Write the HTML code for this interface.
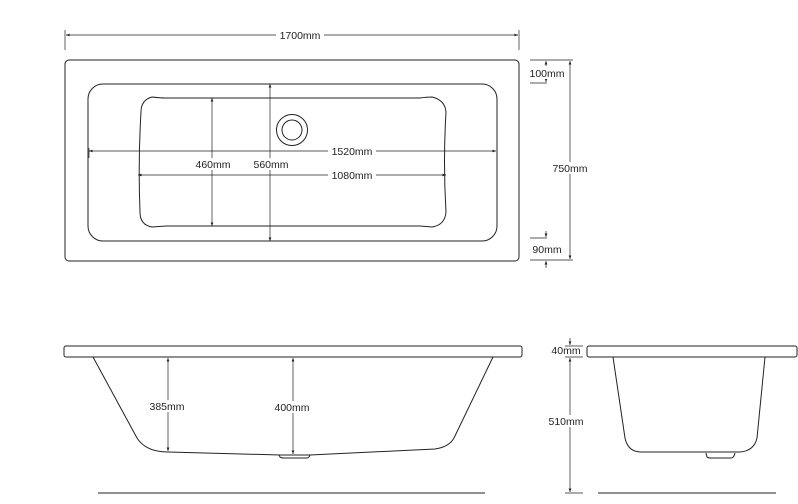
<!DOCTYPE html>
<html><head><style>
html,body{margin:0;padding:0;background:#fff;}
svg{display:block;}
text{font-family:"Liberation Sans",sans-serif;font-size:10.5px;fill:#222;}
</style></head><body>
<svg width="798" height="504" viewBox="0 0 798 504" xmlns="http://www.w3.org/2000/svg">
<defs>
<marker id="a" viewBox="0 0 10 10" refX="10" refY="5" markerWidth="5" markerHeight="5" orient="auto-start-reverse"><path d="M0,1 L10,5 L0,9z" fill="#222"/></marker>
</defs>
<g fill="none" stroke="#222" stroke-width="1">
<!-- top view -->
<rect x="65" y="60" width="454" height="201" rx="4"/>
<rect x="88" y="84" width="409" height="157" rx="15"/>
<path d="M152,97 Q160,98 166,98 L420,98 Q427,97 432,97 Q445,100 446,112 Q443,162 446,212 Q445,225 432,227 L420,226 L166,226 L152,227 Q140,225 140,212 Q138,162 141,112 Q141,100 152,97Z"/>
<circle cx="292" cy="130" r="15.5"/>
<circle cx="292" cy="130" r="10"/>
<!-- dims top -->
<line x1="65" y1="30" x2="65" y2="50" stroke-width="0.7"/>
<line x1="519" y1="30" x2="519" y2="50" stroke-width="0.7"/>
<line x1="66" y1="35" x2="518" y2="35" stroke-width="0.7" marker-start="url(#a)" marker-end="url(#a)"/>
<line x1="89" y1="151" x2="496" y2="151" stroke-width="0.7" marker-start="url(#a)" marker-end="url(#a)"/>
<line x1="89" y1="148" x2="89" y2="158" stroke-width="0.7"/>
<line x1="138" y1="175" x2="446" y2="175" stroke-width="0.7" marker-start="url(#a)" marker-end="url(#a)"/>
<line x1="212" y1="98" x2="212" y2="226" stroke-width="0.7" marker-start="url(#a)" marker-end="url(#a)"/>
<line x1="270" y1="84" x2="270" y2="241" stroke-width="0.7" marker-start="url(#a)" marker-end="url(#a)"/>
<!-- right dims -->
<line x1="530" y1="60" x2="573" y2="60" stroke-width="0.7"/>
<line x1="530" y1="260" x2="573" y2="260" stroke-width="0.7"/>
<line x1="570" y1="61" x2="570" y2="259" stroke-width="0.7" marker-start="url(#a)" marker-end="url(#a)"/>
<line x1="530" y1="83" x2="547" y2="83" stroke-width="0.7"/>
<line x1="546" y1="66" x2="546" y2="61" stroke-width="0.7" marker-end="url(#a)"/>
<line x1="546" y1="77" x2="546" y2="82" stroke-width="0.7" marker-end="url(#a)"/>
<line x1="530" y1="238" x2="547" y2="238" stroke-width="0.7"/>
<line x1="546" y1="231" x2="546" y2="237" stroke-width="0.7" marker-end="url(#a)"/>
<line x1="546" y1="268" x2="546" y2="261" stroke-width="0.7" marker-end="url(#a)"/>
<!-- side view -->
<rect x="64" y="346" width="458" height="11" rx="2"/>
<path d="M93,357 L137,438 Q146,452 168,452 L280,455 L310,455 L435,449 Q449,447 454,438 L493,357"/>
<path d="M279,455 L280,457 Q281,458 284,458 L307,458 Q309,458 310,455"/>
<line x1="168" y1="358" x2="168" y2="451" stroke-width="0.7" marker-start="url(#a)" marker-end="url(#a)"/>
<line x1="293" y1="358" x2="293" y2="454" stroke-width="0.7" marker-start="url(#a)" marker-end="url(#a)"/>
<line x1="98" y1="493" x2="485" y2="493" stroke-width="1"/>
<!-- end view -->
<rect x="587" y="346" width="210" height="11" rx="2"/>
<path d="M613,357 L625,438 Q628,452 641,452 L740,452 Q754,451 757,438 L765,357"/>
<path d="M706,453 L707,457 Q708,458 711,458 L731,458 Q734,458 735,453"/>
<line x1="598" y1="493" x2="776" y2="493" stroke-width="1"/>
<line x1="565" y1="346" x2="583" y2="346" stroke-width="0.7"/>
<line x1="565" y1="357" x2="583" y2="357" stroke-width="0.7"/>
<line x1="570" y1="338" x2="570" y2="345" stroke-width="0.7" marker-end="url(#a)"/>
<line x1="570" y1="358" x2="570" y2="492" stroke-width="0.7" marker-start="url(#a)" marker-end="url(#a)"/>
<line x1="565" y1="493" x2="583" y2="493" stroke-width="0.7"/>
</g>
<g>
<rect x="276" y="29" width="48" height="12" fill="#fff"/>
<text x="300" y="39" text-anchor="middle">1700mm</text>
<rect x="328" y="145" width="48" height="12" fill="#fff"/>
<text x="352" y="155" text-anchor="middle">1520mm</text>
<rect x="328" y="169" width="48" height="12" fill="#fff"/>
<text x="352" y="179" text-anchor="middle">1080mm</text>
<rect x="193" y="158" width="40" height="12" fill="#fff"/>
<text x="213" y="168" text-anchor="middle">460mm</text>
<rect x="251" y="158" width="40" height="12" fill="#fff"/>
<text x="271" y="168" text-anchor="middle">560mm</text>
<rect x="528" y="67" width="38" height="12" fill="#fff"/>
<text x="547" y="77" text-anchor="middle">100mm</text>
<rect x="530" y="243" width="34" height="12" fill="#fff"/>
<text x="547" y="253" text-anchor="middle">90mm</text>
<rect x="550" y="162" width="40" height="12" fill="#fff"/>
<text x="570" y="172" text-anchor="middle">750mm</text>
<rect x="148" y="400" width="40" height="12" fill="#fff"/>
<text x="167" y="410" text-anchor="middle">385mm</text>
<rect x="272" y="401" width="40" height="12" fill="#fff"/>
<text x="292" y="411" text-anchor="middle">400mm</text>
<rect x="547" y="415" width="40" height="12" fill="#fff"/>
<text x="566" y="425" text-anchor="middle">510mm</text>
<text x="566" y="354" text-anchor="middle">40mm</text>
</g>
</svg>
</body></html>
